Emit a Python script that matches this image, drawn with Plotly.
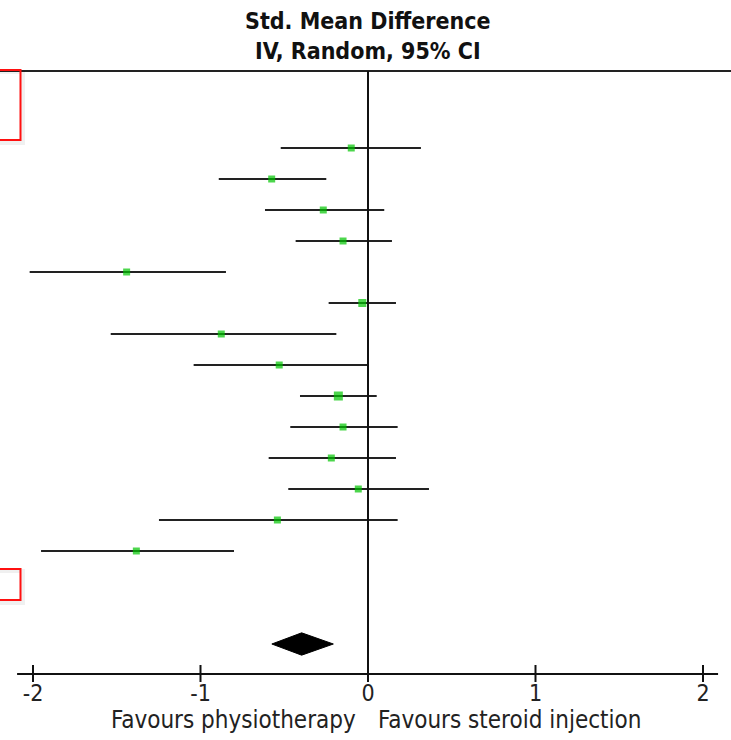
import plotly.graph_objects as go

# ---- data ----
study_index = list(range(14))
smd = [-0.10, -0.575, -0.267, -0.149, -1.441, -0.034, -0.876, -0.53,
       -0.177, -0.149, -0.219, -0.058, -0.541, -1.383]
ci_low = [-0.521, -0.891, -0.615, -0.432, -2.02, -0.235, -1.536, -1.041,
          -0.406, -0.464, -0.593, -0.476, -1.248, -1.952]
ci_high = [0.316, -0.249, 0.097, 0.143, -0.848, 0.167, -0.189, 0.0,
           0.052, 0.177, 0.167, 0.364, 0.177, -0.80]
weight_size = [7, 7, 7, 7, 7, 8, 7, 7, 9, 7, 7, 7, 7, 7]

pooled_row = 16
pooled_est = -0.396
pooled_low = -0.574
pooled_high = -0.207

tick_vals = [-2, -1, 0, 1, 2]
tick_labels = ["-2", "-1", "0", "1", "2"]
left_label = "Favours physiotherapy"
right_label = "Favours steroid injection"
title_lines = ["Std. Mean Difference", "IV, Random, 95% CI"]

FONT = "DejaVu Sans Condensed, Liberation Sans Narrow, DejaVu Sans, sans-serif"
PX_PER_UNIT = 167.5
ZERO_PX = 368
W, H = 731, 740
TOP, BOTTOM = 71, 674

fig = go.Figure()

# CI lines
xs, ys = [], []
for i, lo, hi in zip(study_index, ci_low, ci_high):
    xs += [lo, hi, None]
    ys += [i, i, None]
fig.add_trace(go.Scatter(x=xs, y=ys, mode="lines",
                         line=dict(color="#222222", width=2.2),
                         hoverinfo="skip", showlegend=False))

# point estimates
fig.add_trace(go.Scatter(x=smd, y=study_index, mode="markers",
                         marker=dict(symbol="square", color="#00c400",
                                     size=weight_size, line=dict(width=0)),
                         showlegend=False))

# pooled diamond
h = 0.36
fig.add_trace(go.Scatter(
    x=[pooled_low, pooled_est, pooled_high, pooled_est, pooled_low],
    y=[pooled_row, pooled_row - h, pooled_row, pooled_row + h, pooled_row],
    mode="lines", fill="toself", fillcolor="black",
    line=dict(color="black", width=1), showlegend=False))

ph = BOTTOM - TOP


def py(pix):
    return (BOTTOM - pix) / ph


shapes = []
# top rule across full width
shapes.append(dict(type="line", xref="paper", yref="paper", x0=0, x1=1,
                   y0=1, y1=1, line=dict(color="#222", width=2)))
# zero line
shapes.append(dict(type="line", xref="x", yref="paper", x0=0, x1=0,
                   y0=0, y1=1, line=dict(color="#111", width=2)))
# bottom axis line
shapes.append(dict(type="line", xref="x", yref="paper", x0=-2.095, x1=2.09,
                   y0=0, y1=0, line=dict(color="#111", width=2)))
# tick marks crossing the axis
for tv in tick_vals:
    shapes.append(dict(type="line", xref="x", yref="paper", x0=tv, x1=tv,
                       ysizemode="pixel", yanchor=0, y0=-8, y1=9,
                       line=dict(color="#111", width=2)))
# red highlight boxes at left edge (with faint shadow)
for (t, b) in [(70, 140), (569, 600)]:
    shapes.append(dict(type="rect", xref="paper", yref="paper",
                       x0=-0.02, x1=23 / W, y0=py(b + 3), y1=py(t + 2),
                       line=dict(color="rgba(0,0,0,0.06)", width=4),
                       fillcolor="rgba(0,0,0,0)"))
    shapes.append(dict(type="rect", xref="paper", yref="paper",
                       x0=-0.02, x1=20.5 / W, y0=py(b), y1=py(t),
                       line=dict(color="#ff1010", width=2),
                       fillcolor="rgba(0,0,0,0)"))

annotations = [
    dict(text="<br>".join(title_lines), xref="x", yref="paper", x=0, y=1,
         yanchor="bottom", yshift=5, showarrow=False,
         font=dict(family=FONT, size=23, color="#111", weight="bold")),
    dict(text=left_label, xref="x", yref="paper",
         x=(233.5 - ZERO_PX) / PX_PER_UNIT, y=0,
         yanchor="top", yshift=-30, showarrow=False,
         font=dict(family=FONT, size=24, color="#222")),
    dict(text=right_label, xref="x", yref="paper",
         x=(509 - ZERO_PX) / PX_PER_UNIT, y=0,
         yanchor="top", yshift=-30, showarrow=False,
         font=dict(family=FONT, size=24, color="#222")),
]

fig.update_layout(
    width=W, height=H,
    margin=dict(l=0, r=0, t=TOP, b=H - BOTTOM, pad=0),
    plot_bgcolor="white", paper_bgcolor="white",
    shapes=shapes, annotations=annotations,
    xaxis=dict(range=[-ZERO_PX / PX_PER_UNIT, (W - ZERO_PX) / PX_PER_UNIT],
               showgrid=False, zeroline=False, showline=False,
               tickvals=tick_vals, ticktext=tick_labels, ticks="",
               ticklabelstandoff=3,
               tickfont=dict(family=FONT, size=23, color="#222"),
               fixedrange=True),
    yaxis=dict(range=[(BOTTOM - 148) / 31, (TOP - 148) / 31],
               visible=False, fixedrange=True),
)

fig.write_html("out.html", config={"displayModeBar": False},
               post_script="document.body.style.margin='0';")
